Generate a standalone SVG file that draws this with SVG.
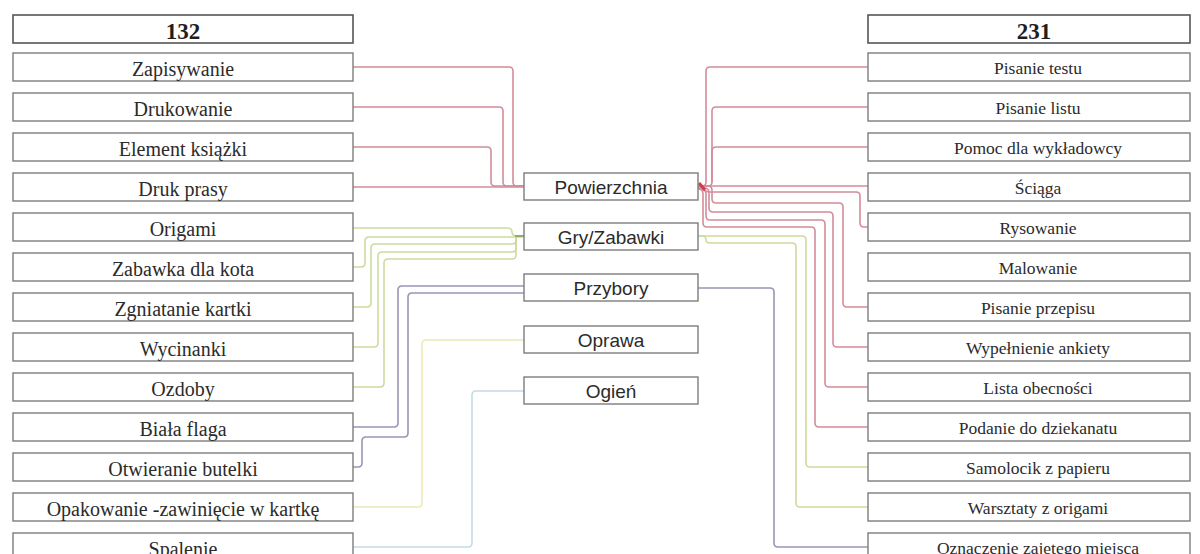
<svg xmlns="http://www.w3.org/2000/svg" width="1200" height="554" viewBox="0 0 1200 554">
<style>
.bx{fill:#fff;stroke:#7d7d7d;stroke-width:1.4}
.hd{fill:#fff;stroke:#555;stroke-width:1.6}
.lt{font-family:"Liberation Serif","Times New Roman",serif;font-size:20px;fill:#2b2b2b;text-anchor:middle}
.rt{font-family:"Liberation Serif","Times New Roman",serif;font-size:17.5px;fill:#2b2b2b;text-anchor:middle}
.ht{font-family:"Liberation Serif","Times New Roman",serif;font-size:23px;font-weight:bold;fill:#1e1e1e;text-anchor:middle}
.ct{font-family:"Liberation Sans",Arial,sans-serif;font-size:19px;fill:#2b2b2b;text-anchor:middle}
.c{fill:none;stroke-width:1.6}
.red{stroke:#d48c9a}
.grn{stroke:#ccdb9c}
.pur{stroke:#9c94b4}
.yel{stroke:#ebe9b6}
.blu{stroke:#c4dce6}
</style>
<g id="connectors">
<path class="c red" d="M353 67 H509 Q513 67 513 71 V182 Q513 186 517 186 H524"/>
<path class="c red" d="M353 107 H499 Q503 107 503 111 V182 Q503 186 507 186 H524"/>
<path class="c red" d="M353 147 H487 Q491 147 491 151 V182 Q491 186 495 186 H524"/>
<path class="c red" d="M353 187 H524"/>
<path class="c red" d="M698 186 H702 Q706 186 706 182 V71 Q706 67 710 67 H868"/>
<path class="c red" d="M698 186 H708 Q712 186 712 182 V111 Q712 107 716 107 H868"/>
<path class="c red" d="M868 147 H716 Q712 147 712 151 V182"/>
<path class="c red" d="M698 186 H868"/>
<path class="c red" d="M700 186 Q704 192 710 192 H856 Q860 192 860 196 V223 Q860 227 864 227 H868"/>
<path class="c red" d="M698 186 H708 Q712 186 712 190 V199 Q712 203 716 203 H839 Q843 203 843 207 V303 Q843 307 847 307 H868"/>
<path class="c red" d="M698 187 Q709 187 709 192 V208 Q709 212 713 212 H829 Q833 212 833 216 V343 Q833 347 837 347 H868"/>
<path class="c red" d="M698 188 Q706 188 706 194 V216 Q706 220 710 220 H821 Q825 220 825 224 V383 Q825 387 829 387 H868"/>
<path class="c red" d="M698 189 Q703 189 703 194 V223 Q703 227 707 227 H811 Q815 227 815 231 V423 Q815 427 819 427 H868"/>
<path d="M699 183 L705 190" fill="none" stroke="#d83a4a" stroke-width="3"/>
<path class="c grn" d="M353 228 H507 Q512 228 512 232 Q512 236 517 236 H524"/>
<path class="c grn" d="M353 267 H361 Q365 267 365 263 V241 Q365 237 369 237 H524"/>
<path class="c grn" d="M353 307 H367 Q371 307 371 303 V248 Q371 244 375 244 H512 Q516 244 516 240 V239 Q516 236 519 236 H524"/>
<path class="c grn" d="M353 347 H374 Q378 347 378 343 V256 Q378 252 382 252 H512 Q516 252 516 248 V239 Q516 236 519 236"/>
<path class="c grn" d="M353 387 H380 Q384 387 384 383 V263 Q384 259 388 259 H512 Q516 259 516 255 V239 Q516 236 519 236"/>
<path d="M515 236 H524" fill="none" stroke="#8fa860" stroke-width="1.8"/>
<path class="c grn" d="M698 236 H802 Q806 236 806 240 V463 Q806 467 810 467 H868"/>
<path class="c grn" d="M698 236 H702 Q706 236 706 240 Q706 243 710 243 H792 Q796 243 796 247 V503 Q796 507 800 507 H868"/>
<path class="c pur" d="M353 427 H394 Q398 427 398 423 V290 Q398 286 402 286 H524"/>
<path class="c pur" d="M353 467 H358 Q362 467 362 463 V441 Q362 437 366 437 H404 Q408 437 408 433 V297 Q408 293 412 293 H524"/>
<path class="c pur" d="M698 288 H770 Q774 288 774 292 V543 Q774 547 778 547 H868"/>
<path class="c yel" d="M353 507 H418 Q422 507 422 503 V344 Q422 340 426 340 H524"/>
<path class="c blu" d="M353 547 H468 Q472 547 472 543 V395 Q472 391 476 391 H524"/>
</g>
<g id="h132"><rect class="hd" x="13" y="15" width="340" height="28"/><text class="ht" x="183" y="39">132</text></g>
<g id="l1"><rect class="bx" x="13" y="53" width="340" height="28"/><text class="lt" x="183" y="76">Zapisywanie</text></g>
<g id="l2"><rect class="bx" x="13" y="93" width="340" height="28"/><text class="lt" x="183" y="116">Drukowanie</text></g>
<g id="l3"><rect class="bx" x="13" y="133" width="340" height="28"/><text class="lt" x="183" y="156">Element książki</text></g>
<g id="l4"><rect class="bx" x="13" y="173" width="340" height="28"/><text class="lt" x="183" y="196">Druk prasy</text></g>
<g id="l5"><rect class="bx" x="13" y="213" width="340" height="28"/><text class="lt" x="183" y="236">Origami</text></g>
<g id="l6"><rect class="bx" x="13" y="253" width="340" height="28"/><text class="lt" x="183" y="276">Zabawka dla kota</text></g>
<g id="l7"><rect class="bx" x="13" y="293" width="340" height="28"/><text class="lt" x="183" y="316">Zgniatanie kartki</text></g>
<g id="l8"><rect class="bx" x="13" y="333" width="340" height="28"/><text class="lt" x="183" y="356">Wycinanki</text></g>
<g id="l9"><rect class="bx" x="13" y="373" width="340" height="28"/><text class="lt" x="183" y="396">Ozdoby</text></g>
<g id="l10"><rect class="bx" x="13" y="413" width="340" height="28"/><text class="lt" x="183" y="436">Biała flaga</text></g>
<g id="l11"><rect class="bx" x="13" y="453" width="340" height="28"/><text class="lt" x="183" y="476">Otwieranie butelki</text></g>
<g id="l12"><rect class="bx" x="13" y="493" width="340" height="28"/><text class="lt" x="183" y="516">Opakowanie -zawinięcie w kartkę</text></g>
<g id="l13"><rect class="bx" x="13" y="533" width="340" height="28"/><text class="lt" x="183" y="556">Spalenie</text></g>
<g id="c1"><rect class="bx" x="524" y="173" width="174" height="27"/><text class="ct" x="611" y="194">Powierzchnia</text></g>
<g id="c2"><rect class="bx" x="524" y="223" width="174" height="27"/><text class="ct" x="611" y="244">Gry/Zabawki</text></g>
<g id="c3"><rect class="bx" x="524" y="274" width="174" height="27"/><text class="ct" x="611" y="295">Przybory</text></g>
<g id="c4"><rect class="bx" x="524" y="326" width="174" height="27"/><text class="ct" x="611" y="347">Oprawa</text></g>
<g id="c5"><rect class="bx" x="524" y="377" width="174" height="27"/><text class="ct" x="611" y="398">Ogień</text></g>
<g id="h231"><rect class="hd" x="868" y="15" width="322" height="28"/><text class="ht" x="1034" y="39">231</text></g>
<g id="r1"><rect class="bx" x="868" y="53" width="322" height="28"/><text class="rt" x="1038" y="74">Pisanie testu</text></g>
<g id="r2"><rect class="bx" x="868" y="93" width="322" height="28"/><text class="rt" x="1038" y="114">Pisanie listu</text></g>
<g id="r3"><rect class="bx" x="868" y="133" width="322" height="28"/><text class="rt" x="1038" y="154">Pomoc dla wykładowcy</text></g>
<g id="r4"><rect class="bx" x="868" y="173" width="322" height="28"/><text class="rt" x="1038" y="194">Ściąga</text></g>
<g id="r5"><rect class="bx" x="868" y="213" width="322" height="28"/><text class="rt" x="1038" y="234">Rysowanie</text></g>
<g id="r6"><rect class="bx" x="868" y="253" width="322" height="28"/><text class="rt" x="1038" y="274">Malowanie</text></g>
<g id="r7"><rect class="bx" x="868" y="293" width="322" height="28"/><text class="rt" x="1038" y="314">Pisanie przepisu</text></g>
<g id="r8"><rect class="bx" x="868" y="333" width="322" height="28"/><text class="rt" x="1038" y="354">Wypełnienie ankiety</text></g>
<g id="r9"><rect class="bx" x="868" y="373" width="322" height="28"/><text class="rt" x="1038" y="394">Lista obecności</text></g>
<g id="r10"><rect class="bx" x="868" y="413" width="322" height="28"/><text class="rt" x="1038" y="434">Podanie do dziekanatu</text></g>
<g id="r11"><rect class="bx" x="868" y="453" width="322" height="28"/><text class="rt" x="1038" y="474">Samolocik z papieru</text></g>
<g id="r12"><rect class="bx" x="868" y="493" width="322" height="28"/><text class="rt" x="1038" y="514">Warsztaty z origami</text></g>
<g id="r13"><rect class="bx" x="868" y="533" width="322" height="28"/><text class="rt" x="1038" y="554">Oznaczenie zajętego miejsca</text></g>
</svg>
